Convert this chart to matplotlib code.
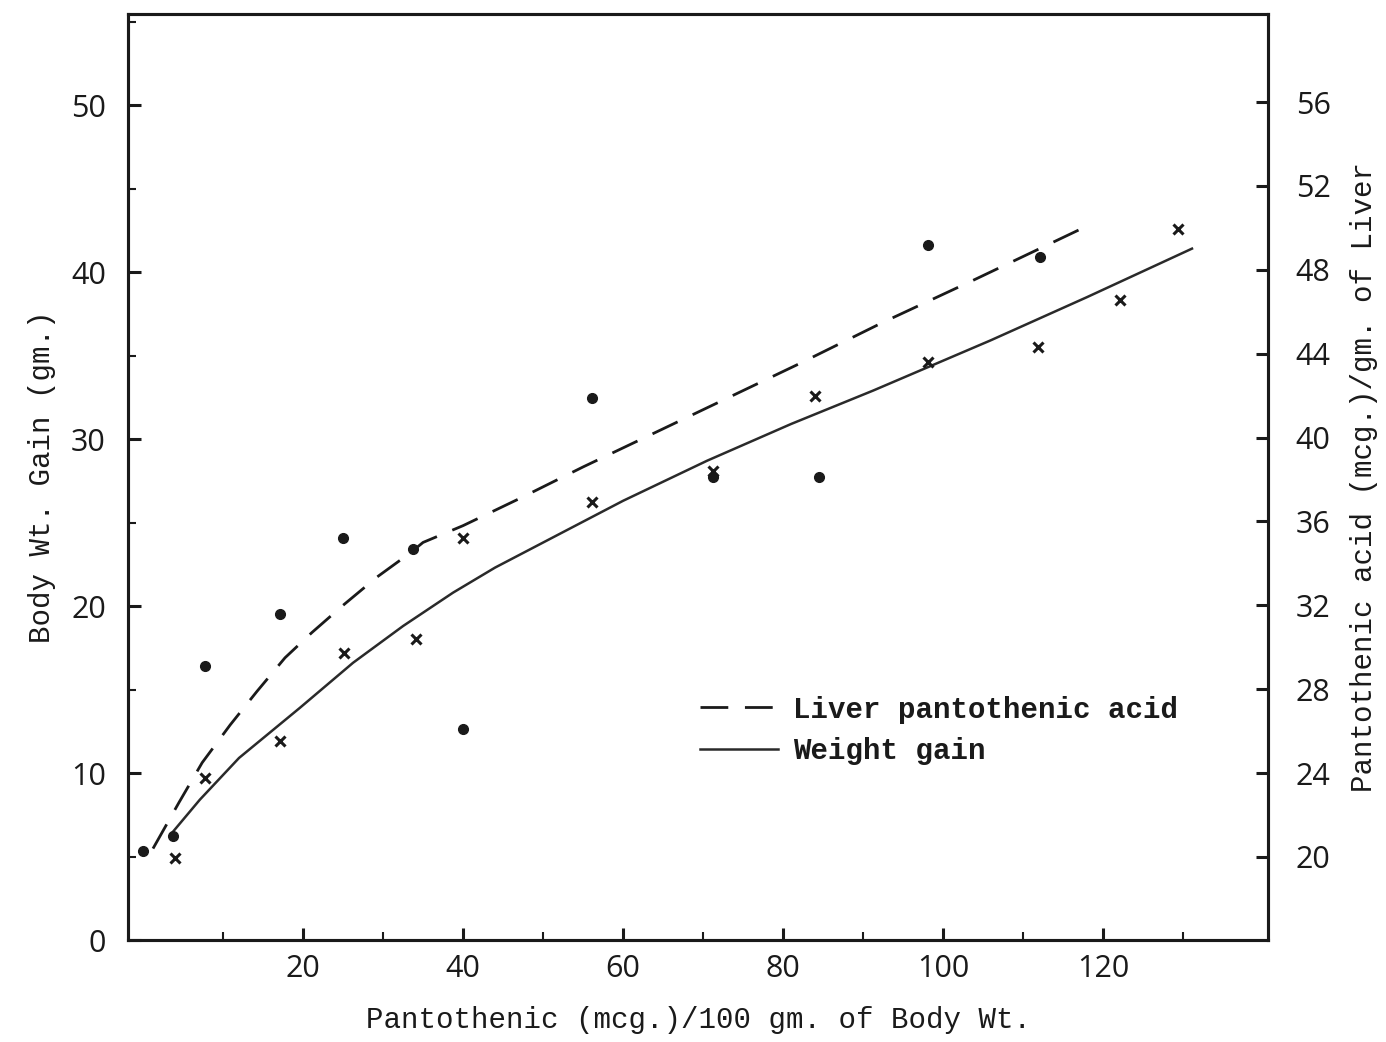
import matplotlib
matplotlib.use("Agg")
import matplotlib.pyplot as plt
from matplotlib.ticker import FixedLocator

# ---- data ----
# Liver pantothenic acid (mcg./gm. of liver), right axis, dots
liver_x = [0, 3.75, 7.75, 17.1, 25.0, 33.75, 40.0, 56.1, 71.25, 84.5, 98.1, 112.1]
liver_y = [20.3, 21.0, 29.1, 31.6, 35.2, 34.7, 26.1, 41.9, 38.1, 38.1, 49.2, 48.6]
# Weight gain (gm.), left axis, crosses
gain_x = [4.0, 7.75, 17.1, 25.1, 34.1, 40.0, 56.1, 71.25, 84.0, 98.1, 111.9, 122.1, 129.4]
gain_y = [4.9, 9.7, 11.9, 17.2, 18.0, 24.1, 26.2, 28.1, 32.6, 34.6, 35.5, 38.3, 42.6]
# fitted curves
liver_curve_x = [1.25, 4.5, 7.4, 10.9, 14.25, 17.75, 21.1, 25.0, 29.25, 33.4, 35.0, 40.0, 47.1, 55.0, 64.9, 81.9, 92.5, 103.75, 118.6]
liver_curve_y = [20.4, 22.6, 24.5, 26.3, 27.9, 29.5, 30.7, 32.0, 33.35, 34.5, 35.0, 35.8, 37.1, 38.6, 40.4, 43.5, 45.5, 47.5, 50.2]
gain_curve_x = [3.6, 7.1, 12.0, 19.6, 26.25, 32.5, 38.75, 44.0, 49.6, 60.0, 70.5, 81.0, 91.25, 105.9, 118.0, 131.1]
gain_curve_y = [6.4, 8.4, 10.9, 13.9, 16.6, 18.8, 20.8, 22.3, 23.7, 26.3, 28.7, 30.9, 32.9, 35.9, 38.5, 41.4]

x_ticks = [20, 40, 60, 80, 100, 120]
x_minor = [10, 30, 50, 70, 90, 110, 130]
left_ticks = [0, 10, 20, 30, 40, 50]
left_minor = [5, 15, 25, 35, 45, 55]
right_ticks = [20, 24, 28, 32, 36, 40, 44, 48, 52, 56]

mono = "Liberation Mono"
num_font = "Open Sans"
ink = "#1a1a1a"

fig = plt.figure(figsize=(13.86, 10.42), dpi=100)
ax = fig.add_axes([128/1386, 1-940/1042, 1140/1386, 926/1042])
ax2 = ax.twinx()

ax.set_xlim(-1.875, 140.6)
ax.set_ylim(0, 55.45)
ax2.set_ylim(16.04, 60.2)

for a in (ax, ax2):
    for s in a.spines.values():
        s.set_linewidth(2.2)
        s.set_color(ink)

# curves
ax2.plot(liver_curve_x, liver_curve_y, color=ink, lw=2.0, linestyle=(0, (10, 6)),
         label="Liver pantothenic acid", solid_joinstyle='round')
ax.plot(gain_curve_x, gain_curve_y, color="#2a2a2a", lw=1.8, label="Weight gain",
        solid_joinstyle='round')
# points
ax2.plot(liver_x, liver_y, 'o', color=ink, markersize=7, linestyle='none')
ax.plot(gain_x, gain_y, 'x', color=ink, markersize=6.5, mew=2.2, linestyle='none')

# ticks
ax.xaxis.set_major_locator(FixedLocator(x_ticks))
ax.xaxis.set_minor_locator(FixedLocator(x_minor))
ax.yaxis.set_major_locator(FixedLocator(left_ticks))
ax.yaxis.set_minor_locator(FixedLocator(left_minor))
ax2.yaxis.set_major_locator(FixedLocator(right_ticks))
ax2.yaxis.set_minor_locator(FixedLocator([]))
ax.tick_params(axis='both', which='major', direction='in', length=9, width=2.2,
               colors=ink, labelsize=22)
ax.tick_params(axis='both', which='minor', direction='in', length=6, width=1.5, colors=ink)
ax.tick_params(axis='x', which='major', pad=10)
ax.tick_params(axis='y', which='major', pad=16)
ax2.tick_params(axis='y', which='major', direction='in', length=9, width=2.2,
                colors=ink, labelsize=22, pad=20)
for lab in ax.get_xticklabels() + ax.get_yticklabels() + ax2.get_yticklabels():
    lab.set_family(num_font)
    lab.set_color(ink)

ax.set_xlabel("Pantothenic (mcg.)/100 gm. of Body Wt.", fontsize=21,
              family=mono, color=ink, labelpad=16)
ax.set_ylabel("Body Wt. Gain (gm.)", fontsize=21, family=mono, color=ink, labelpad=11)
ax2.set_ylabel("Pantothenic acid (mcg.)/gm. of Liver", fontsize=21, family=mono,
               color=ink, labelpad=14, rotation=90)

h1, l1 = ax2.get_legend_handles_labels()
h2, l2 = ax.get_legend_handles_labels()
leg = ax2.legend(h1 + h2, l1 + l2, loc='upper left',
                 bbox_to_anchor=((688-128)/1140, 1-(684-14)/926),
                 frameon=False, handlelength=2.7, handletextpad=0.5,
                 labelspacing=0.45, borderaxespad=0,
                 prop={'family': mono, 'size': 21, 'weight': 'bold'})
for t in leg.get_texts():
    t.set_color(ink)

fig.savefig("out.png", dpi=100, facecolor="white")
